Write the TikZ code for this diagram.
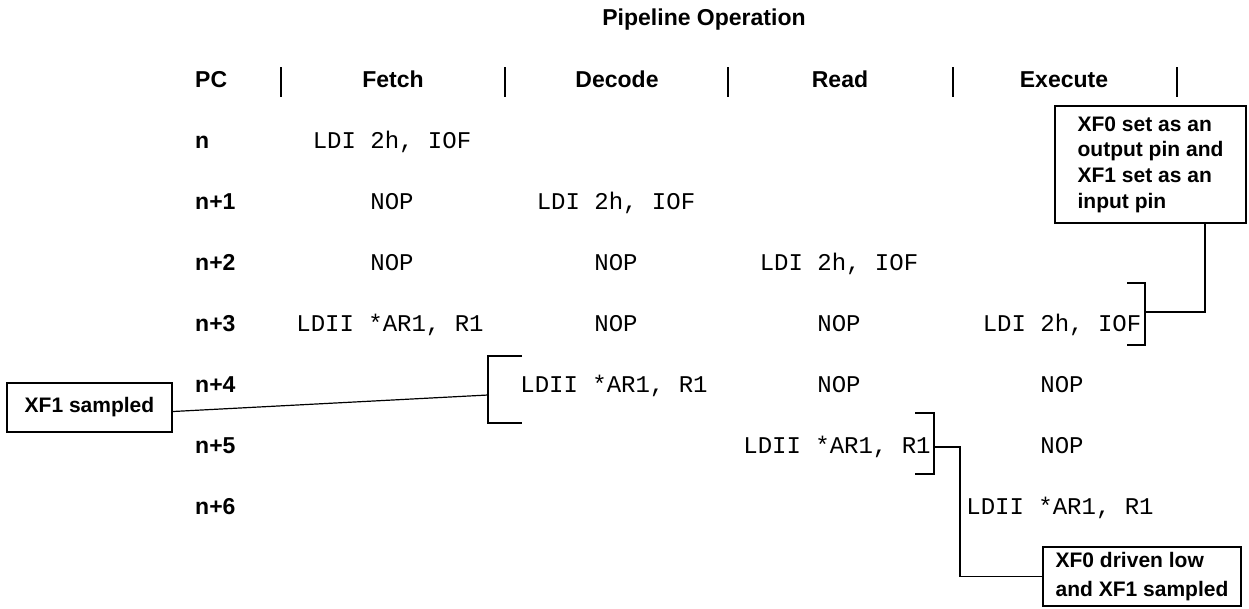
\documentclass[tikz,border=0pt]{standalone}
\usepackage{fontspec}
\setmainfont{Liberation Sans}
\newfontfamily\monof{Liberation Mono}
\usetikzlibrary{calc}
\begin{document}
\begin{tikzpicture}[x=1pt,y=-1pt,
  hdr/.style={font=\fontsize{23}{27}\selectfont\bfseries, inner sep=0pt, anchor=base},
  rowlab/.style={hdr, anchor=base west},
  code/.style={font=\fontsize{24}{28}\selectfont\monof, inner sep=0pt, anchor=base},
  sepline/.style={line width=1.5pt},
  wire/.style={line width=1.2pt},
  callout/.style={draw, line width=2pt, font=\fontsize{21}{25.7}\selectfont\bfseries, align=left, inner sep=0pt}]
\useasboundingbox (0,0) rectangle (1249,608);

% title
\node[hdr] (title) at (704,25) {Pipeline Operation};

% header
\node[rowlab] (hpc) at (195,87) {PC};
\node[hdr] (hf) at (393,87) {Fetch};
\node[hdr] (hd) at (617,87) {Decode};
\node[hdr] (hr) at (840,87) {Read};
\node[hdr] (he) at (1064,87) {Execute};
\foreach \x in {281,505,728,953,1177} \draw[sepline] (\x,67) -- (\x,97);

% row labels
\node[rowlab] (r0) at (195,148) {n};
\node[rowlab] (r1) at (195,209) {n+1};
\node[rowlab] (r2) at (195,270) {n+2};
\node[rowlab] (r3) at (195,331) {n+3};
\node[rowlab] (r4) at (195,392) {n+4};
\node[rowlab] (r5) at (195,453) {n+5};
\node[rowlab] (r6) at (195,514) {n+6};

% cells
\node[code] (c0f) at (392,148) {LDI 2h, IOF};
\node[code] (c1f) at (392,209) {NOP};
\node[code] (c1d) at (616,209) {LDI 2h, IOF};
\node[code] (c2f) at (392,270) {NOP};
\node[code] (c2d) at (616,270) {NOP};
\node[code] (c2r) at (839,270) {LDI 2h, IOF};
\node[code] (c3f) at (390,331) {LDII *AR1, R1};
\node[code] (c3d) at (616,331) {NOP};
\node[code] (c3r) at (839,331) {NOP};
\node[code] (c3e) at (1062,331) {LDI 2h, IOF};
\node[code] (c4d) at (614,392) {LDII *AR1, R1};
\node[code] (c4r) at (839,392) {NOP};
\node[code] (c4e) at (1062,392) {NOP};
\node[code] (c5r) at (837,453) {LDII *AR1, R1};
\node[code] (c5e) at (1062,453) {NOP};
\node[code] (c6e) at (1060,514) {LDII *AR1, R1};

% callouts
\node[callout, minimum width=191pt, minimum height=117pt] (box1) at (1150.5,164.5)
  {XF0 set as an\\output pin and\\XF1 set as an\\input pin};
\node[callout, minimum width=165pt, minimum height=49pt] (xf1) at (89.5,407.5) {XF1 sampled};
\node[callout, font=\fontsize{21}{29}\selectfont\bfseries, minimum width=198pt, minimum height=59pt]
  (box2) at (1142,576.5) {XF0 driven low\\and XF1 sampled};

% brackets
\coordinate (br1) at (1145,312);
\draw[wire] (1127,283) -- (1145,283) -- (1145,345) -- (1127,345);
\coordinate (br2) at (488,395);
\draw[wire] (522,356) -- (488,356) -- (488,423) -- (522,423);
\coordinate (br3) at (934,447);
\draw[wire] (915,413) -- (934,413) -- (934,474) -- (915,474);
\coordinate (bend3) at (960,447);

% connectors
\draw[wire] ($(box1.south)+(54.5,0)$) |- (br1);
\draw[wire] ($(xf1.east)+(0,4)$) -- (br2);
\draw[wire] (br3) -- (bend3) |- (box2.west);
\end{tikzpicture}
\end{document}
